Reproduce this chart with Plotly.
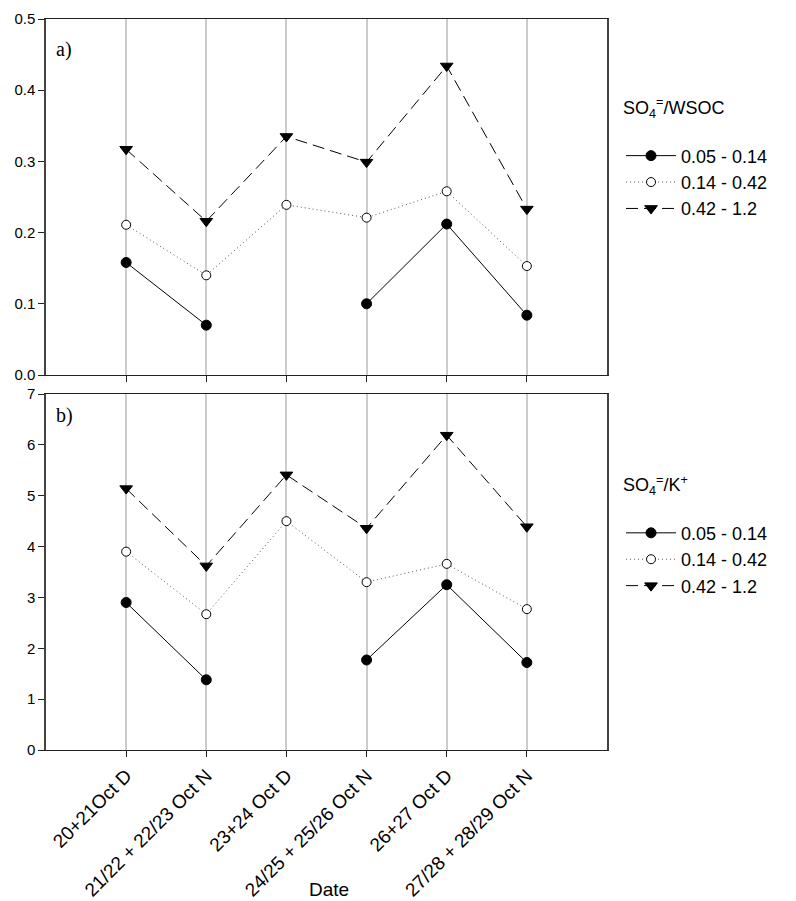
import plotly.graph_objects as go

categories = ["20+21Oct D", "21/22 + 22/23 Oct N", "23+24 Oct D",
              "24/25 + 25/26 Oct N", "26+27 Oct D", "27/28 + 28/29 Oct N"]
series_names = ["0.05 - 0.14", "0.14 - 0.42", "0.42 - 1.2"]

# panel a) SO4=/WSOC
a_low = [0.158, 0.070, None, 0.100, 0.212, 0.084]
a_mid = [0.211, 0.140, 0.239, 0.221, 0.258, 0.153]
a_high = [0.317, 0.216, 0.335, 0.299, 0.434, 0.233]

# panel b) SO4=/K+
b_low = [2.90, 1.38, None, 1.77, 3.25, 1.72]
b_mid = [3.90, 2.67, 4.50, 3.30, 3.66, 2.77]
b_high = [5.14, 3.62, 5.41, 4.36, 6.19, 4.39]

yticks_a = [0.0, 0.1, 0.2, 0.3, 0.4, 0.5]
yticks_b = [0, 1, 2, 3, 4, 5, 6, 7]

xpos = list(range(len(categories)))
FONT = "Liberation Sans, Arial, sans-serif"
SERIF = "Liberation Serif, Times New Roman, serif"

styles = [
    dict(line=dict(color="black", width=1, dash="solid"),
         marker=dict(symbol="circle", size=10, color="black", line=dict(color="black", width=1))),
    dict(line=dict(color="#555", width=1, dash="1px,3px"),
         marker=dict(symbol="circle", size=9, color="white", line=dict(color="black", width=1))),
    dict(line=dict(color="black", width=1, dash="12px,6px"),
         marker=dict(symbol="triangle-down", size=11, color="black", line=dict(color="black", width=1))),
]

fig = go.Figure()
for vals, name, st in zip([a_low, a_mid, a_high], series_names, styles):
    fig.add_trace(go.Scatter(x=xpos, y=vals, name=name, mode="lines+markers",
                             xaxis="x", yaxis="y", legend="legend",
                             connectgaps=False, **st))
for vals, name, st in zip([b_low, b_mid, b_high], series_names, styles):
    fig.add_trace(go.Scatter(x=xpos, y=vals, name=name, mode="lines+markers",
                             xaxis="x2", yaxis="y2", legend="legend2",
                             connectgaps=False, **st))

common_x = dict(range=[-1, 6], tickvals=xpos, showgrid=True, gridcolor="#cccccc",
                gridwidth=1.5, zeroline=False, showline=True, linecolor="#222",
                linewidth=1, mirror=True, ticks="outside", ticklen=6,
                tickcolor="#222", automargin=False)
common_y = dict(showgrid=False, zeroline=False, showline=True, linecolor="#444",
                linewidth=1.5, mirror=True, ticks="outside", ticklen=6,
                tickcolor="#222", automargin=False,
                tickfont=dict(family=FONT, size=15, color="black"))

legend_common = dict(xanchor="left", yanchor="top", font=dict(family=FONT, size=18),
                     tracegroupgap=0, bgcolor="rgba(0,0,0,0)", itemwidth=50)

fig.update_layout(
    width=788, height=893,
    margin=dict(l=38, r=189, t=11, b=151),
    paper_bgcolor="white", plot_bgcolor="white",
    font=dict(family=FONT, color="black"),
    xaxis=dict(**common_x, domain=[0, 1], anchor="y", showticklabels=False),
    yaxis=dict(**common_y, domain=[0.513, 1], anchor="x", range=[0, 0.5],
               tickvals=yticks_a, tickformat=".1f"),
    xaxis2=dict(**common_x, domain=[0, 1], anchor="y2", ticktext=categories,
                tickangle=-45, tickfont=dict(family=FONT, size=19, color="black")),
    yaxis2=dict(**common_y, domain=[0, 0.487], anchor="x2", range=[0, 7],
                tickvals=yticks_b),
    legend=dict(**legend_common, x=1.025, y=0.902,
                title=dict(text="SO<sub>4</sub><sup>=</sup>/WSOC<br> ",
                           font=dict(family=FONT, size=18))),
    legend2=dict(**legend_common, x=1.025, y=0.386,
                 title=dict(text="SO<sub>4</sub><sup>=</sup>/K<sup>+</sup><br> ",
                            font=dict(family=FONT, size=18))),
    annotations=[
        dict(text="a)", xref="paper", yref="paper", x=0.014, y=0.958, xanchor="left",
             yanchor="middle", showarrow=False, font=dict(family=SERIF, size=20)),
        dict(text="b)", xref="paper", yref="paper", x=0.014, y=0.458, xanchor="left",
             yanchor="middle", showarrow=False, font=dict(family=SERIF, size=20)),
        dict(text="Date", xref="paper", yref="paper", x=0.505, y=-0.1915, xanchor="center",
             yanchor="middle", showarrow=False, font=dict(family=FONT, size=19)),
    ],
)

fig.write_html("out.html")
